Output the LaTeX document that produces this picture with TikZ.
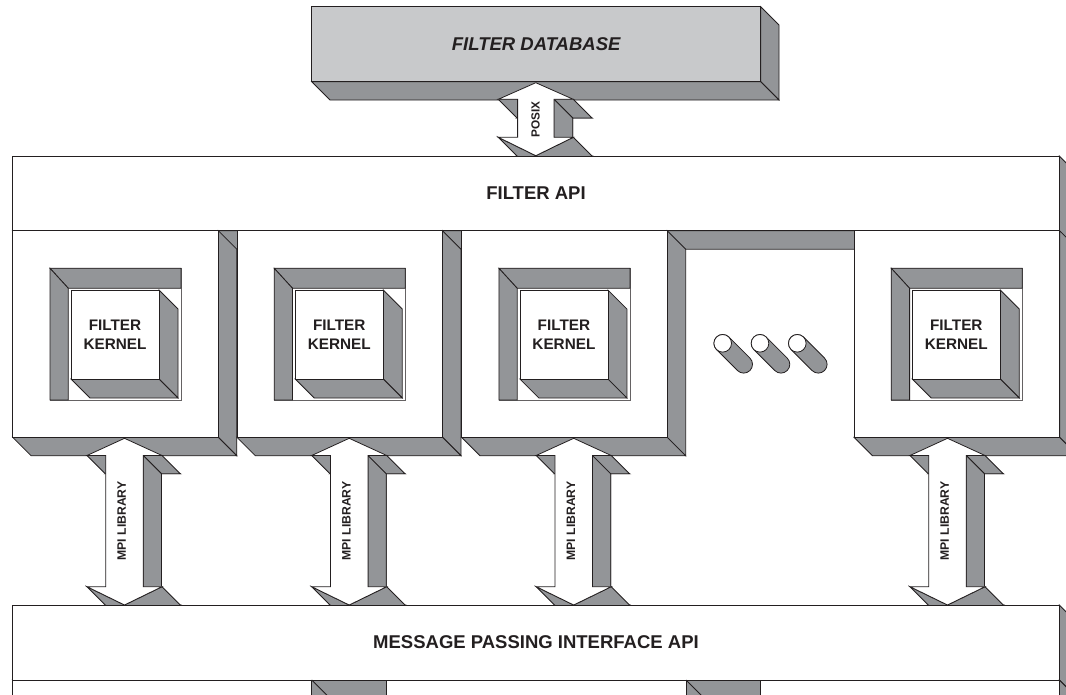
\documentclass[tikz,border=0pt]{standalone}
\usepackage{fontspec}
\setmainfont{Liberation Sans}
\usetikzlibrary{calc}
\definecolor{ink}{HTML}{231F20}
\definecolor{sidegray}{HTML}{939598}
\definecolor{dbgray}{HTML}{C8C9CB}
\tikzset{
  sideface/.style={fill=sidegray, draw=ink, line width=0.8pt, line join=miter},
  frontface/.style={fill=white, draw=ink, line width=0.8pt},
  dbface/.style={fill=dbgray, draw=ink, line width=0.8pt},
  frameline/.style={fill=white, draw=ink!70, line width=0.6pt},
  biglabel/.style={text=ink, font=\fontsize{18.5}{22}\selectfont\bfseries, inner sep=0pt},
  kernlabel/.style={text=ink, font=\fontsize{15.3}{19.5}\selectfont\bfseries, align=center, inner sep=0pt},
  arrowlabel/.style={text=ink, rotate=90, font=\fontsize{12.2}{14}\selectfont\bfseries, inner sep=0pt}
}
% 3D box: front (x1,y1)-(x2,y2), depth d down-right
\newcommand\tdbox[6][frontface]{%
  \filldraw[sideface] ({#4},{#3}) -- ({#4+#6},{#3+#6}) -- ({#4+#6},{#5+#6}) -- ({#4},{#5}) -- cycle;
  \filldraw[sideface] ({#2},{#5}) -- ({#4},{#5}) -- ({#4+#6},{#5+#6}) -- ({#2+#6},{#5+#6}) -- cycle;
  \filldraw[#1] ({#2},{#3}) rectangle ({#4},{#5});
}
% 3D double arrow: cx, ytip, yhead, yshaftbottom, ybottomtip, head half width, shaft half width, depth
\newcommand\tdarrow[8]{%
  \pgfmathsetmacro\aL{#1-#6}\pgfmathsetmacro\aR{#1+#6}%
  \pgfmathsetmacro\sL{#1-#7}\pgfmathsetmacro\sR{#1+#7}%
  \begin{scope}[shift={(#8,#8)}]
    \filldraw[sideface] ({#1},{#2}) -- (\aL,{#3}) -- (\sL,{#3}) -- (\sL,{#4}) -- (\aL,{#4}) -- ({#1},{#5}) -- (\aR,{#4}) -- (\sR,{#4}) -- (\sR,{#3}) -- (\aR,{#3}) -- cycle;
  \end{scope}
  \filldraw[sideface] (\aL,{#3}) -- (\sL,{#3}) -- ({\sL+#8},{#3+#8}) -- ({\aL+#8},{#3+#8}) -- cycle;
  \filldraw[sideface] (\sR,{#3}) -- (\aR,{#3}) -- ({\aR+#8},{#3+#8}) -- ({\sR+#8},{#3+#8}) -- cycle;
  \filldraw[sideface] (\sR,{#3}) -- ({\sR+#8},{#3+#8}) -- ({\sR+#8},{#4+#8}) -- (\sR,{#4}) -- cycle;
  \filldraw[sideface] (\aL,{#4}) -- ({#1},{#5}) -- ({#1+#8},{#5+#8}) -- ({\aL+#8},{#4+#8}) -- cycle;
  \filldraw[sideface] ({#1},{#5}) -- (\aR,{#4}) -- ({\aR+#8},{#4+#8}) -- ({#1+#8},{#5+#8}) -- cycle;
  \filldraw[frontface] ({#1},{#2}) -- (\aL,{#3}) -- (\sL,{#3}) -- (\sL,{#4}) -- (\aL,{#4}) -- ({#1},{#5}) -- (\aR,{#4}) -- (\sR,{#4}) -- (\sR,{#3}) -- (\aR,{#3}) -- cycle;
}
% processing module with filter kernel
\newcommand\procmodule[2]{%
  \pgfmathsetmacro\mx{#1}%
  \tdbox{\mx}{230.7}{\mx+205.6}{437.3}{18.5}
  \filldraw[frameline] ({\mx+37.3},268.3) rectangle ({\mx+168.3},400);
  \filldraw[sideface] ({\mx+37.3},268.3) -- ({\mx+168.3},268.3) -- ({\mx+168.3},288.3) -- ({\mx+55.6},288.3) -- cycle;
  \filldraw[sideface] ({\mx+37.3},268.3) -- ({\mx+55.6},288.3) -- ({\mx+55.6},400) -- ({\mx+37.3},400) -- cycle;
  \tdbox{\mx+58.3}{290}{\mx+146.3}{379}{19}
  \node[kernlabel] (#2) at ({\mx+102.3},334.5) {FILTER\\KERNEL};
}
% tilted cylinder (ellipsis dot)
\newcommand\tdcyl[2]{%
  \filldraw[sideface] ($({#1},{#2})+(-45:8.8)$) -- ($({#1+21},{#2+21})+(-45:8.8)$)
    arc[start angle=-45, end angle=135, radius=8.8] -- ($({#1},{#2})+(135:8.8)$)
    arc[start angle=135, end angle=315, radius=8.8] -- cycle;
  \filldraw[frontface] ({#1},{#2}) circle (8.8);
}
\begin{document}
\begin{tikzpicture}[x=1pt,y=-1pt]
\useasboundingbox (0,0) rectangle (1066,694);
\clip (0,0) rectangle (1066,694);
% filter database
\tdbox[dbface]{311.7}{6.7}{760.7}{81.7}{18.3}
\node[biglabel, font=\fontsize{18.5}{22}\selectfont\bfseries\itshape] (db) at (536.2,44.2) {FILTER DATABASE};
% POSIX arrow
\tdarrow{535.8}{82.7}{99.3}{137.3}{155.7}{37.5}{18.2}{18.7}
\node[arrowlabel, font=\fontsize{11.8}{14}\selectfont\bfseries] (posix) at (535.6,119.5) {POSIX};
% filter API
\tdbox{12.7}{156}{1059.3}{230.7}{18.5}
\node[biglabel] (api) at (536,193.4) {FILTER API};
% modules
\procmodule{12.7}{k1}
\procmodule{236.9}{k2}
\procmodule{461.6}{k3}
\procmodule{854}{k4}
% ellipsis
\tdcyl{722.7}{343.3}
\tdcyl{760}{343.3}
\tdcyl{797.3}{343.3}
% MPI arrows
\tdarrow{124.5}{438.3}{455.5}{586.7}{605}{37.5}{18.7}{18.3}
\tdarrow{349.2}{438.3}{455.5}{586.7}{605}{37.5}{18.7}{18.3}
\tdarrow{573.7}{438.3}{455.5}{586.7}{605}{37.5}{18.7}{18.3}
\tdarrow{947.5}{438.3}{455.5}{586.7}{605}{37.5}{18.7}{18.3}
\node[arrowlabel] (m1) at (121.7,521) {MPI LIBRARY};
\node[arrowlabel] (m2) at (346.4,521) {MPI LIBRARY};
\node[arrowlabel] (m3) at (570.9,521) {MPI LIBRARY};
\node[arrowlabel] (m4) at (944.7,521) {MPI LIBRARY};
% message passing interface API
\tdbox{12.7}{605}{1059.3}{680}{18.5}
\node[biglabel] (mpi) at (536,642.5) {MESSAGE PASSING INTERFACE API};
% lower layer
\tdbox{12.7}{680}{1059.3}{780}{18.5}
\filldraw[sideface] (311.7,680) rectangle (386.7,710);
\draw[ink, line width=0.8pt] (311.7,680) -- (330.2,698.5);
\filldraw[sideface] (686,680) rectangle (760.7,710);
\draw[ink, line width=0.8pt] (686,680) -- (704.5,698.5);
\end{tikzpicture}
\end{document}
